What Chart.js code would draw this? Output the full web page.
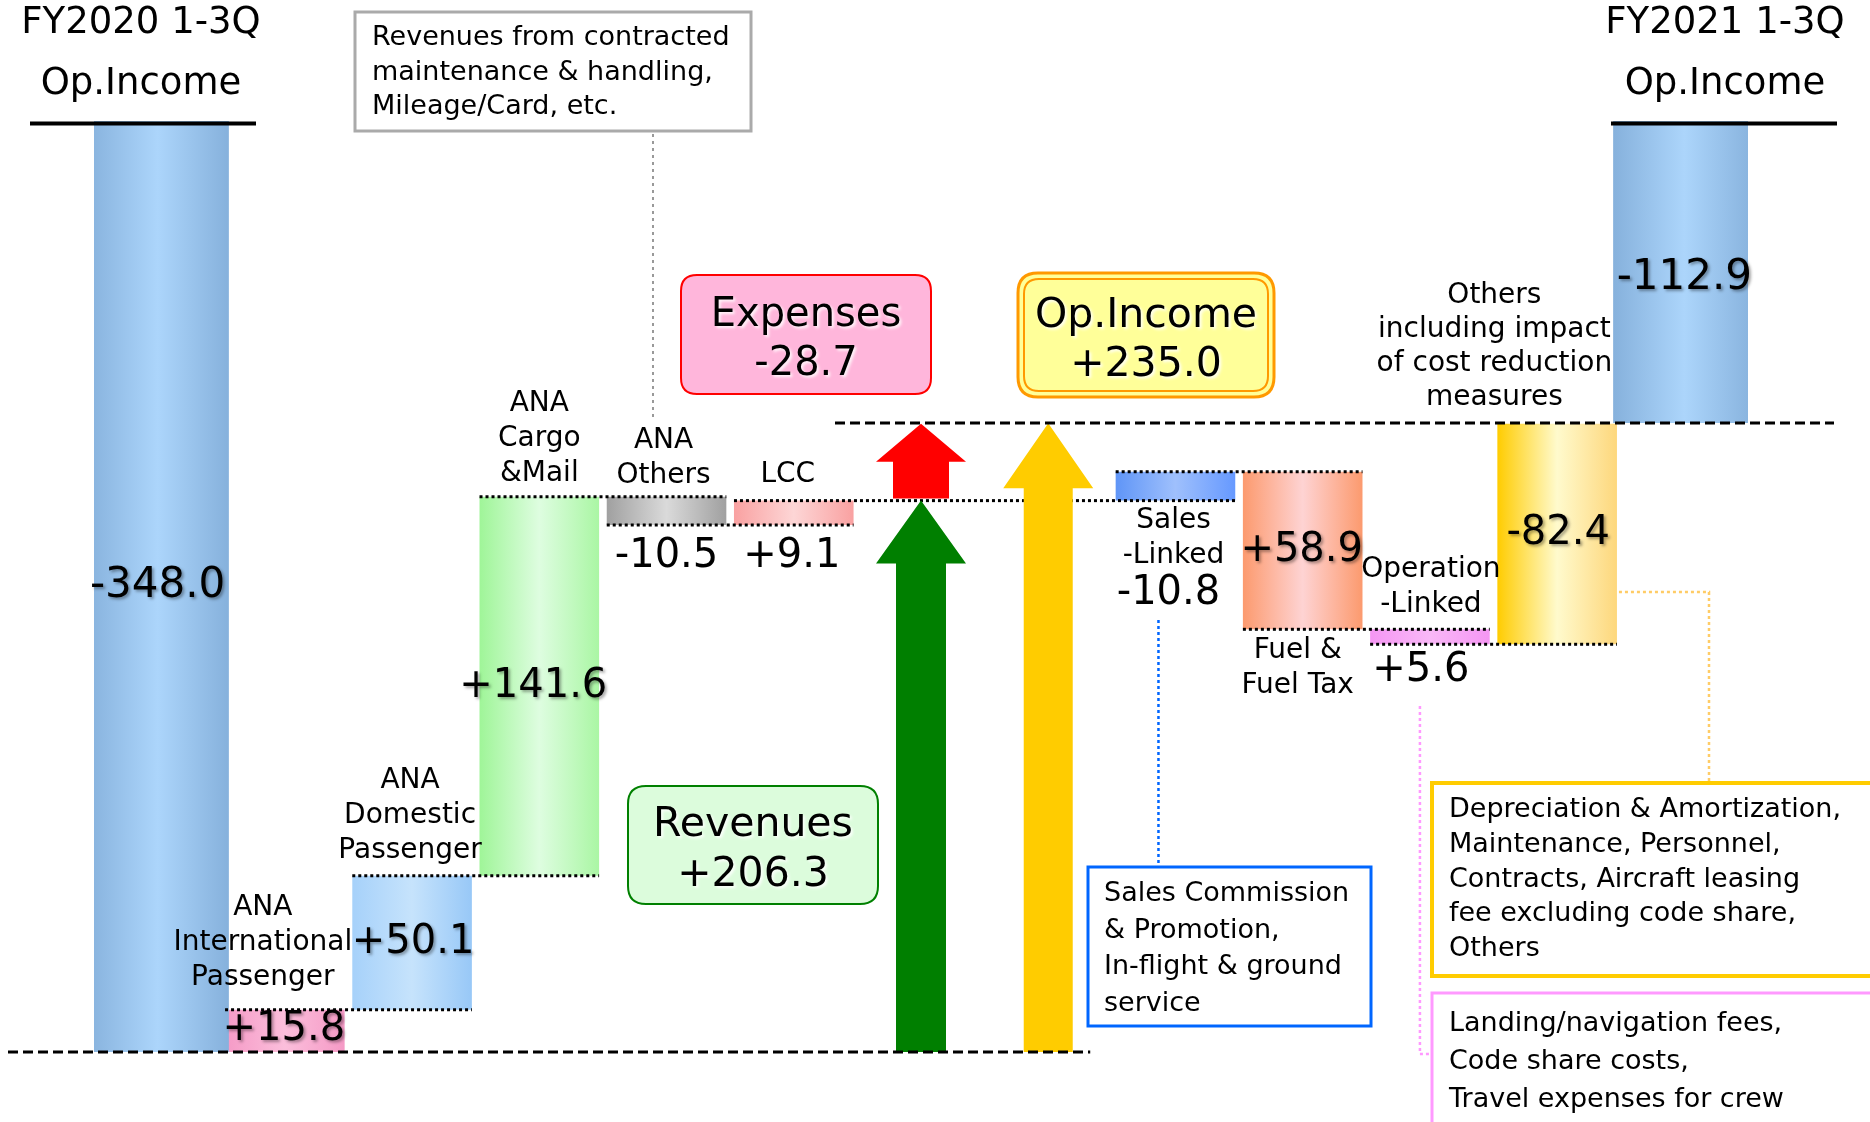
<!DOCTYPE html>
<html>
<head>
<meta charset="utf-8">
<script src="https://cdn.jsdelivr.net/npm/chart.js@4.4.1/dist/chart.umd.min.js"></script>
<style>
  html, body { margin: 0; padding: 0; background: #fff; }
  #chart { display: block; }
</style>
</head>
<body>
<canvas id="chart" width="1870" height="1122"></canvas>
<script>
// ---- data (JPY bn) ----
const categories = [
  ['FY2020 1-3Q', 'Op.Income'],
  ['ANA', 'International', 'Passenger'],
  ['ANA', 'Domestic', 'Passenger'],
  ['ANA', 'Cargo', '&Mail'],
  ['ANA', 'Others'],
  ['LCC'],
  ['Revenues', 'Expenses'],
  ['Op.Income'],
  ['Sales', '-Linked'],
  ['Fuel &', 'Fuel Tax'],
  ['Operation', '-Linked'],
  ['Others', 'including impact', 'of cost reduction', 'measures'],
  ['FY2021 1-3Q', 'Op.Income']
];
const opIncome = [-348.0, -112.9];          // FY2020, FY2021
const revenueItems = [15.8, 50.1, 141.6, -10.5, 9.1];
const expenseItems = [-10.8, 58.9, 5.6, -82.4];
const revenueTotal = 206.3;
const expenseTotal = -28.7;
const opIncomeChange = 235.0;

const fmt = v => (v > 0 ? '+' : '') + v.toFixed(1);

// waterfall ranges
let level = opIncome[0];
const revBars = revenueItems.map(v => { const b = [level, level + v]; level += v; return b; });
const revLevel = level;
// expenses: an expense increase (negative) lifts the bar in this layout
const expBars = expenseItems.map(v => { const b = [level, level - v]; level -= v; return b; });

const totalData = [[opIncome[0], 0], null, null, null, null, null, null, null, null, null, null, null, [opIncome[1], 0]];
const changeData = [null, ...revBars, null, null, ...expBars, null];

// ---- styles ----
const FONT = '"DejaVu Sans", Verdana, sans-serif';
const shades = {
  0: ['#86b1dc', '#acd5fb', '#86b1dc'],
  1: ['#f59ac6', '#fbbedb', '#f59ac6'],
  2: ['#a6d1fa', '#c6e3fc', '#98c8f7'],
  3: ['#9ff598', '#defde0', '#aaf6a4'],
  4: ['#a0a0a0', '#dadada', '#a0a0a0'],
  5: ['#f9a1a1', '#fdd6d6', '#f9a1a1'],
  8: ['#5f95f7', '#9fc0fc', '#6699ff'],
  9: ['#fc9a6e', '#fed3d3', '#fc9a6e'],
  10: ['#f596f3', '#f9b8f7', '#f596f3'],
  11: ['#ffcc00', '#fffacd', '#fdd77c'],
  12: ['#86b1dc', '#acd5fb', '#86b1dc']
};
const TOTAL_BP = 1.12, CHANGE_BP = 0.94;

function barFill(bp) {
  return c => {
    const chart = c.chart, s = shades[c.dataIndex];
    if (!s) return 'rgba(0,0,0,0)';
    if (!chart.chartArea) return s[0];
    const xs = chart.scales.x;
    const cx = xs.getPixelForValue(c.dataIndex);
    const hw = xs.width / categories.length * bp / 2;
    const g = chart.ctx.createLinearGradient(cx - hw, 0, cx + hw, 0);
    g.addColorStop(0, s[0]);
    g.addColorStop(0.5, s[1]);
    g.addColorStop(1, s[2]);
    return g;
  };
}

function rrect(ctx, x, y, w, h, r) {
  ctx.beginPath();
  ctx.moveTo(x + r, y);
  ctx.lineTo(x + w - r, y);
  ctx.quadraticCurveTo(x + w, y, x + w, y + r);
  ctx.lineTo(x + w, y + h - r);
  ctx.quadraticCurveTo(x + w, y + h, x + w - r, y + h);
  ctx.lineTo(x + r, y + h);
  ctx.quadraticCurveTo(x, y + h, x, y + h - r);
  ctx.lineTo(x, y + r);
  ctx.quadraticCurveTo(x, y, x + r, y);
  ctx.closePath();
}

function text(ctx, lines, x, y, size, opt = {}) {
  ctx.save();
  ctx.font = size + 'px ' + FONT;
  ctx.fillStyle = '#000';
  ctx.textAlign = opt.align || 'center';
  ctx.textBaseline = 'middle';
  if (opt.shadow) {
    ctx.shadowColor = opt.shadow;
    ctx.shadowOffsetX = 2;
    ctx.shadowOffsetY = 2;
    ctx.shadowBlur = 3;
  }
  lines.forEach((l, k) => ctx.fillText(l, x, y + k * (opt.lh || 0)));
  ctx.restore();
}

function line(ctx, pts, color, width, dash) {
  ctx.save();
  ctx.strokeStyle = color;
  ctx.lineWidth = width;
  ctx.setLineDash(dash || []);
  ctx.beginPath();
  pts.forEach((p, k) => k ? ctx.lineTo(p[0], p[1]) : ctx.moveTo(p[0], p[1]));
  ctx.stroke();
  ctx.restore();
}

function arrow(ctx, cx, yBase, yTip, headH, headHW, shaftHW, color) {
  ctx.save();
  ctx.fillStyle = color;
  ctx.beginPath();
  ctx.moveTo(cx - shaftHW, yBase);
  ctx.lineTo(cx - shaftHW, yTip + headH);
  ctx.lineTo(cx - headHW, yTip + headH);
  ctx.lineTo(cx, yTip);
  ctx.lineTo(cx + headHW, yTip + headH);
  ctx.lineTo(cx + shaftHW, yTip + headH);
  ctx.lineTo(cx + shaftHW, yBase);
  ctx.closePath();
  ctx.fill();
  ctx.restore();
}

const decor = {
  id: 'decor',
  afterDatasetsDraw(chart) {
    const ctx = chart.ctx;
    const xs = chart.scales.x, ys = chart.scales.y;
    const X = i => xs.getPixelForValue(i);
    const Y = v => ys.getPixelForValue(v);
    const hw = xs.width / categories.length * CHANGE_BP / 2;
    const dot = [3, 3];

    // connectors between waterfall steps
    const links = [
      [revBars[0][1], 1, 2], [revBars[1][1], 2, 3], [revBars[2][1], 3, 4],
      [revBars[3][1], 4, 5], [revLevel, 5, 8],
      [expBars[0][1], 8, 9], [expBars[1][1], 9, 10], [expBars[2][1], 10, 11]
    ];
    links.forEach(([v, a, b]) => line(ctx, [[X(a) - hw, Y(v)], [X(b) + hw, Y(v)]], '#000', 3, dot));

    // arrows
    arrow(ctx, X(6), Y(opIncome[0]), Y(revLevel), 63, 45, 25, '#007f00');
    arrow(ctx, X(6), Y(revLevel) - 2, Y(revLevel - expenseTotal), 38, 45, 28, '#ff0000');
    arrow(ctx, X(7), Y(opIncome[0]), Y(opIncome[0] + opIncomeChange), 65, 45, 24.5, '#ffcc00');

    // reference lines
    line(ctx, [[8, Y(opIncome[0])], [X(7) + 42, Y(opIncome[0])]], '#000', 3, [10, 5]);
    line(ctx, [[X(6) - 86, Y(opIncome[1])], [1834, Y(opIncome[1])]], '#000', 3, [10, 5]);

    // titles
    [[0, 141, 30, 256], [12, 1725, 1611, 1837]].forEach(([c, x, l, r]) => {
      text(ctx, [categories[c][0]], x, 23, 37);
      text(ctx, [categories[c][1]], x, 84, 37);
      ctx.fillStyle = '#000';
      ctx.fillRect(l, Y(0) + 0.5, r - l, 4);
    });

    // category labels
    const lab = [
      [1, -22, 908], [2, -2, 781], [3, 0, 404], [4, -3, 441], [5, -6, 475],
      [8, -2, 521], [9, -5, 651], [10, 1, 570], [11, 0, 296]
    ];
    lab.forEach(([c, dx, y]) => {
      const x = c === 11 ? X(12) - 190 : X(c) + dx;
      text(ctx, categories[c], x, y, 28, { lh: c === 11 ? 34 : 35 });
    });

    // value labels
    const sh = 'rgba(0,0,0,0.35)';
    const mid = r => Y((r[0] + r[1]) / 2);
    text(ctx, [fmt(opIncome[0])], X(0), mid(totalData[0]), 42, { shadow: sh });
    text(ctx, [fmt(opIncome[1])], X(12), 278, 42, { shadow: sh });
    text(ctx, [fmt(revenueItems[0])], X(1) - 1, mid(revBars[0]) - 1, 40, { shadow: sh });
    text(ctx, [fmt(revenueItems[1])], X(2) + 1, mid(revBars[1]), 40, { shadow: sh });
    text(ctx, [fmt(revenueItems[2])], X(3) - 6, mid(revBars[2]), 40, { shadow: sh });
    text(ctx, [fmt(revenueItems[3])], X(4), 557, 40);
    text(ctx, [fmt(revenueItems[4])], X(5) - 2, 557, 40);
    text(ctx, [fmt(expenseItems[0])], X(8) - 7, 594, 40);
    text(ctx, [fmt(expenseItems[1])], X(9) - 1, mid(expBars[1]), 40, { shadow: sh });
    text(ctx, [fmt(expenseItems[2])], X(10) - 9, 671, 40);
    text(ctx, [fmt(expenseItems[3])], X(11) + 1, mid(expBars[3]), 40, { shadow: sh });

    const glow = 'rgba(255,255,255,0.9)';
    // Expenses box
    ctx.save();
    rrect(ctx, 681, 275, 250, 119, 16);
    ctx.fillStyle = '#ffb6db'; ctx.fill();
    ctx.strokeStyle = '#ff0000'; ctx.lineWidth = 2; ctx.stroke();
    ctx.restore();
    text(ctx, ['Expenses', fmt(expenseTotal)], 806, 316, 40, { lh: 49, shadow: glow });

    // Op.Income box (double border)
    ctx.save();
    rrect(ctx, 1018, 273, 256, 124, 20);
    ctx.fillStyle = '#ffff99'; ctx.fill();
    ctx.strokeStyle = '#ff9900'; ctx.lineWidth = 3; ctx.stroke();
    rrect(ctx, 1024, 279, 244, 112, 15);
    ctx.lineWidth = 2; ctx.stroke();
    ctx.restore();
    text(ctx, ['Op.Income', fmt(opIncomeChange)], 1146, 316, 41, { lh: 49, shadow: glow });

    // Revenues box
    ctx.save();
    rrect(ctx, 628, 786, 250, 118, 18);
    ctx.fillStyle = '#dcfcdc'; ctx.fill();
    ctx.strokeStyle = '#008000'; ctx.lineWidth = 2; ctx.stroke();
    ctx.restore();
    text(ctx, ['Revenues', fmt(revenueTotal)], 753, 825, 41, { lh: 50, shadow: glow });

    // note: ANA Others
    line(ctx, [[653, 134], [653, 417]], '#999', 2, [3, 4]);
    ctx.save();
    ctx.fillStyle = '#fff'; ctx.fillRect(355, 12, 396, 119);
    ctx.strokeStyle = '#aaaaaa'; ctx.lineWidth = 3; ctx.strokeRect(355, 12, 396, 119);
    ctx.restore();
    text(ctx, ['Revenues from contracted', 'maintenance & handling,', 'Mileage/Card, etc.'],
      372, 38, 27, { align: 'left', lh: 34.5 });

    // note: Sales-Linked
    line(ctx, [[X(8) - 17, 620], [X(8) - 17, 867]], '#0066ff', 2.5, [3, 3]);
    ctx.save();
    ctx.strokeStyle = '#0066ff'; ctx.lineWidth = 3; ctx.strokeRect(1088, 867, 283, 159);
    ctx.restore();
    text(ctx, ['Sales Commission', '& Promotion,', 'In-flight & ground', 'service'],
      1104, 894, 27, { align: 'left', lh: 36.5 });

    // note: Others
    line(ctx, [[X(11) + hw + 2, 592], [1709, 592], [1709, 781]], '#ffcc66', 2.5, [3, 3]);
    ctx.save();
    ctx.strokeStyle = '#ffcc00'; ctx.lineWidth = 4; ctx.strokeRect(1432, 783, 460, 193);
    ctx.restore();
    text(ctx, ['Depreciation & Amortization,', 'Maintenance, Personnel,', 'Contracts, Aircraft leasing',
      'fee excluding code share,', 'Others'], 1449, 810, 27, { align: 'left', lh: 34.8 });

    // note: Operation-Linked
    line(ctx, [[X(10) - 10, 706], [X(10) - 10, 1054], [1430, 1054]], '#ff99ff', 2.5, [3, 3]);
    ctx.save();
    ctx.strokeStyle = '#ff99ff'; ctx.lineWidth = 3; ctx.strokeRect(1432, 993, 460, 160);
    ctx.restore();
    text(ctx, ['Landing/navigation fees,', 'Code share costs,', 'Travel expenses for crew'],
      1449, 1024, 27, { align: 'left', lh: 38 });
  }
};

new Chart(document.getElementById('chart'), {
  type: 'bar',
  data: {
    labels: categories,
    datasets: [
      {
        label: 'Op.Income',
        data: totalData,
        backgroundColor: barFill(TOTAL_BP),
        borderWidth: 0,
        barPercentage: TOTAL_BP,
        categoryPercentage: 1,
        grouped: false
      },
      {
        label: 'Change',
        data: changeData,
        backgroundColor: barFill(CHANGE_BP),
        borderWidth: 0,
        barPercentage: CHANGE_BP,
        categoryPercentage: 1,
        grouped: false
      }
    ]
  },
  options: {
    responsive: false,
    animation: false,
    layout: { padding: { left: 94, right: 122, top: 0, bottom: 0 } },
    scales: {
      x: { display: false, offset: true },
      y: { display: false, min: -374.17, max: 45.23 }
    },
    plugins: {
      legend: { display: false },
      tooltip: { enabled: false }
    }
  },
  plugins: [decor]
});
</script>
</body>
</html>
